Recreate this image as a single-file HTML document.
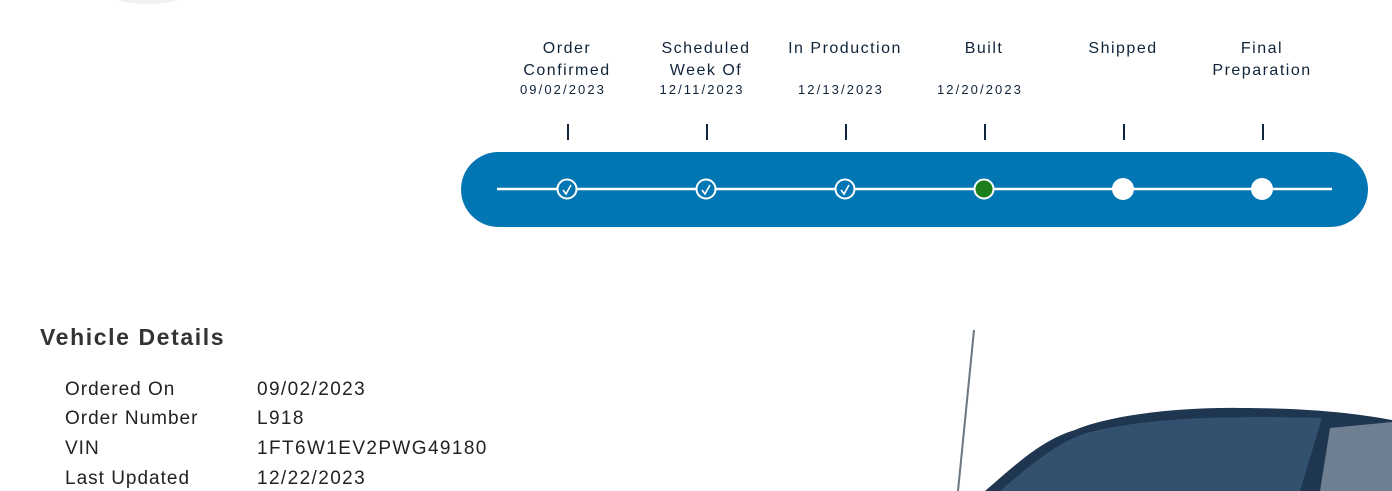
<!DOCTYPE html>
<html><head><style>
body{margin:0;width:1392px;height:491px;overflow:hidden;background:#fff;position:relative;font-family:"Liberation Sans",sans-serif;color:#10243a}
.lbl{position:absolute;top:38px;width:160px;margin-left:-80px;text-align:center;font-size:16px;line-height:22px;letter-spacing:1.5px}
.dt{position:absolute;top:82px;width:140px;margin-left:-70px;text-align:center;font-size:13px;letter-spacing:2.1px}
.tick{position:absolute;top:124px;width:2px;height:16px;background:#10243a;margin-left:-1px}
.row{position:absolute;left:65px;font-size:19px;color:#222;letter-spacing:1px}
.row span{position:absolute;left:192px;white-space:nowrap;letter-spacing:1.4px}
</style></head><body>
<div style="position:absolute;left:100px;top:-30px;width:95px;height:34px;border-radius:50%;background:#eef2f4"></div>

<div class="lbl" style="left:567px">Order<br>Confirmed</div><div class="dt" style="left:563px">09/02/2023</div>
<div class="lbl" style="left:706px">Scheduled<br>Week Of</div><div class="dt" style="left:702px">12/11/2023</div>
<div class="lbl" style="left:845px">In Production</div><div class="dt" style="left:841px">12/13/2023</div>
<div class="lbl" style="left:984px">Built</div><div class="dt" style="left:980px">12/20/2023</div>
<div class="lbl" style="left:1123px">Shipped</div>
<div class="lbl" style="left:1262px">Final<br>Preparation</div>

<div class="tick" style="left:568px"></div><div class="tick" style="left:707px"></div><div class="tick" style="left:846px"></div><div class="tick" style="left:985px"></div><div class="tick" style="left:1124px"></div><div class="tick" style="left:1263px"></div>

<svg style="position:absolute;left:0;top:0" width="1392" height="491">
<rect x="461" y="152" width="907" height="75" rx="37.5" fill="#0275b3"/>
<line x1="497" y1="189" x2="1332" y2="189" stroke="#fff" stroke-width="2.5"/>
<g stroke="#fff" stroke-width="2" fill="#0275b3">
<circle cx="567" cy="189" r="9.5"/><circle cx="706" cy="189" r="9.5"/><circle cx="845" cy="189" r="9.5"/>
</g>
<g stroke="#fff" stroke-width="1.6" fill="none">
<path d="M563 190 l3 4 l5 -9"/><path d="M702 190 l3 4 l5 -9"/><path d="M841 190 l3 4 l5 -9"/>
</g>
<circle cx="984" cy="189" r="9.5" fill="#1a7f1a" stroke="#fff" stroke-width="2"/>
<circle cx="1123" cy="189" r="11" fill="#fff"/>
<circle cx="1262" cy="189" r="11" fill="#fff"/>
<line x1="974" y1="330" x2="958" y2="491" stroke="#6b7680" stroke-width="2"/>
<path d="M985 491 C1010 470 1040 440 1075 430 C1110 415 1180 407 1240 408 C1300 408 1350 412 1392 420 L1392 491 Z" fill="#1f3650"/>
<path d="M1000 491 C1030 465 1060 440 1090 432 C1140 420 1200 415 1322 418 L1300 491 Z" fill="#33506e"/>
<path d="M1330 428 L1392 422 L1392 491 L1320 491 Z" fill="#6d7f90"/>
</svg>

<div style="position:absolute;left:40px;top:324px;font-size:23px;font-weight:bold;color:#333;letter-spacing:1.6px">Vehicle Details</div>
<div class="row" style="top:379px">Ordered On<span>09/02/2023</span></div>
<div class="row" style="top:408px">Order Number<span>L918</span></div>
<div class="row" style="top:438px">VIN<span>1FT6W1EV2PWG49180</span></div>
<div class="row" style="top:468px">Last Updated<span>12/22/2023</span></div>
</body></html>
